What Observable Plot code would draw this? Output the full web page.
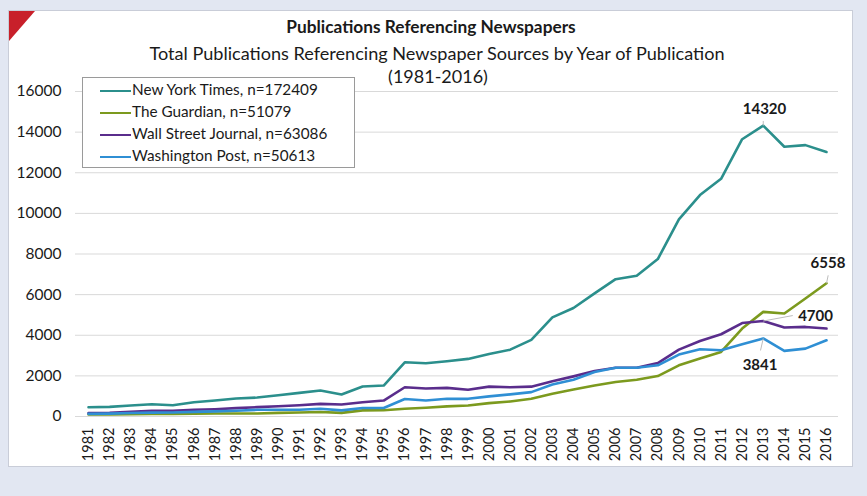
<!DOCTYPE html>
<html>
<head>
<meta charset="utf-8">
<script src="https://cdn.jsdelivr.net/npm/d3@7"></script>
<script src="https://cdn.jsdelivr.net/npm/@observablehq/plot@0.6"></script>
<style>
  html, body { margin: 0; padding: 0; background: #e2e7f2; }
  #page { position: relative; width: 867px; height: 496px; overflow: hidden; font-family: Lato, "Open Sans", sans-serif; color: #1a1a1a; }
  #panel { position: absolute; left: 8px; top: 10px; width: 843px; height: 455px; background: #fff; border: 1px solid #c9cdd8; }
  #corner { position: absolute; left: 9px; top: 11px; width: 0; height: 0; border-top: 30px solid #c8202a; border-right: 26px solid transparent; }
  .t { position: absolute; left: 0; white-space: nowrap; text-align: center; }
  #title { top: 16px; width: 862px; font-weight: 700; font-size: 17.3px; }
  #sub { top: 42px; width: 874px; font-size: 18.1px; }
  #sub2 { top: 65px; width: 876px; font-size: 18px; }
  #chart { position: absolute; left: 0; top: 70px; }
  #legend { position: absolute; left: 82px; top: 77px; width: 271px; height: 89px; background: #fff; border: 1px solid #9a9a9a; font-size: 15.3px; }
  .item { position: absolute; left: 17px; height: 22px; line-height: 22px; white-space: nowrap; }
  .sw { display: inline-block; width: 31px; height: 2.5px; vertical-align: middle; margin-right: 1px; }
</style>
</head>
<body>
<div id="page">
  <div id="panel"></div>
  <div id="corner"></div>
  <div class="t" id="title">Publications Referencing Newspapers</div>
  <div class="t" id="sub">Total Publications Referencing Newspaper Sources by Year of Publication</div>
  <div class="t" id="sub2">(1981-2016)</div>
  <div id="chart"></div>
  <div id="legend"></div>
</div>
<script>
const years = [1981,1982,1983,1984,1985,1986,1987,1988,1989,1990,1991,1992,1993,1994,1995,1996,1997,1998,1999,2000,2001,2002,2003,2004,2005,2006,2007,2008,2009,2010,2011,2012,2013,2014,2015,2016];
const yTicks = [0,2000,4000,6000,8000,10000,12000,14000,16000];

const seriesNames = ["New York Times, n=172409", "The Guardian, n=51079", "Wall Street Journal, n=63086", "Washington Post, n=50613"];
const seriesColors = ["#2b8f8c", "#7c9a1e", "#5a2d8c", "#2f8fd4"];

const nyt = [459,475,540,606,557,704,786,884,934,1048,1163,1278,1081,1474,1523,2670,2620,2720,2835,3080,3290,3770,4880,5340,6060,6760,6930,7750,9700,10900,11700,13650,14320,13280,13360,13020];
const guardian = [100,100,110,120,130,140,150,150,150,180,200,220,180,300,310,380,430,500,540,660,740,870,1120,1330,1530,1700,1810,1990,2520,2850,3180,4330,5150,5070,5810,6558];
const wsj = [164,180,230,280,280,330,360,410,460,508,557,620,590,700,786,1440,1380,1410,1320,1470,1440,1470,1730,1975,2240,2400,2400,2630,3290,3720,4050,4600,4700,4380,4410,4330];
const wapo = [130,140,170,190,200,230,250,280,330,330,330,380,300,420,420,860,790,870,870,990,1090,1200,1580,1810,2190,2400,2400,2520,3050,3310,3260,3560,3841,3230,3340,3750];

// annotations: label, anchor point (year, value), leader end and label position in data space
const annLabels = ["14320", "6558", "4700", "3841"];
const annYears = [2013, 2016, 2013, 2013];
const annValues = [14320, 6558, 4700, 3841];
const annLeadYears = [2013, 2016.08, 2014.4, 2012.87];
const annLeadValues = [14550, 6950, 4970, 3250];
const annLabelYears = [2013.06, 2016.07, 2015.48, 2012.85];
const annLabelValues = [15150, 7550, 4920, 2550];

const seriesValues = [nyt, guardian, wsj, wapo];
const rows = [];
seriesNames.forEach((name, i) => {
  years.forEach((yr, j) => rows.push({series: name, year: yr, value: seriesValues[i][j]}));
});
const ann = annLabels.map((l, i) => ({label: l, x1: annYears[i], y1: annValues[i], x2: annLeadYears[i], y2: annLeadValues[i], lx: annLabelYears[i], ly: annLabelValues[i]}));

const chart = Plot.plot({
  width: 867,
  height: 396,
  marginLeft: 75,
  marginRight: 29,
  marginTop: 21,
  marginBottom: 50,
  style: {fontFamily: "Lato, sans-serif", fontSize: "15px", color: "#1a1a1a", background: "transparent", overflow: "visible"},
  x: {type: "linear", domain: [1981, 2016], range: [88, 826]},
  y: {domain: [0, 16000]},
  color: {domain: seriesNames, range: seriesColors},
  marks: [
    Plot.ruleY(yTicks, {stroke: "#d9d9d9", strokeWidth: 1}),
    Plot.axisY({ticks: yTicks, tickSize: 0, tickPadding: 14, tickFormat: d => String(d), fontSize: 15.5}),
    Plot.axisX({ticks: years, tickSize: 0, tickPadding: 11, tickRotate: -90, tickFormat: d => String(d), fontSize: 14.5}),
    Plot.line(rows, {x: "year", y: "value", z: "series", stroke: "series", strokeWidth: 2.6, curve: "linear"}),
    Plot.link(ann, {x1: "x1", y1: "y1", x2: "x2", y2: "y2", stroke: "#bdbdbd", strokeWidth: 1}),
    Plot.text(ann, {x: "lx", y: "ly", text: "label", fontWeight: "bold", fontSize: 15, fill: "#1a1a1a"})
  ]
});
document.getElementById("chart").appendChild(chart);

const legend = document.getElementById("legend");
seriesNames.forEach((name, i) => {
  const d = document.createElement("div");
  d.className = "item";
  d.style.top = (0 + i * 22) + "px";
  d.innerHTML = `<span class="sw" style="background:${seriesColors[i]}"></span>${name}`;
  legend.appendChild(d);
});
</script>
</body>
</html>
